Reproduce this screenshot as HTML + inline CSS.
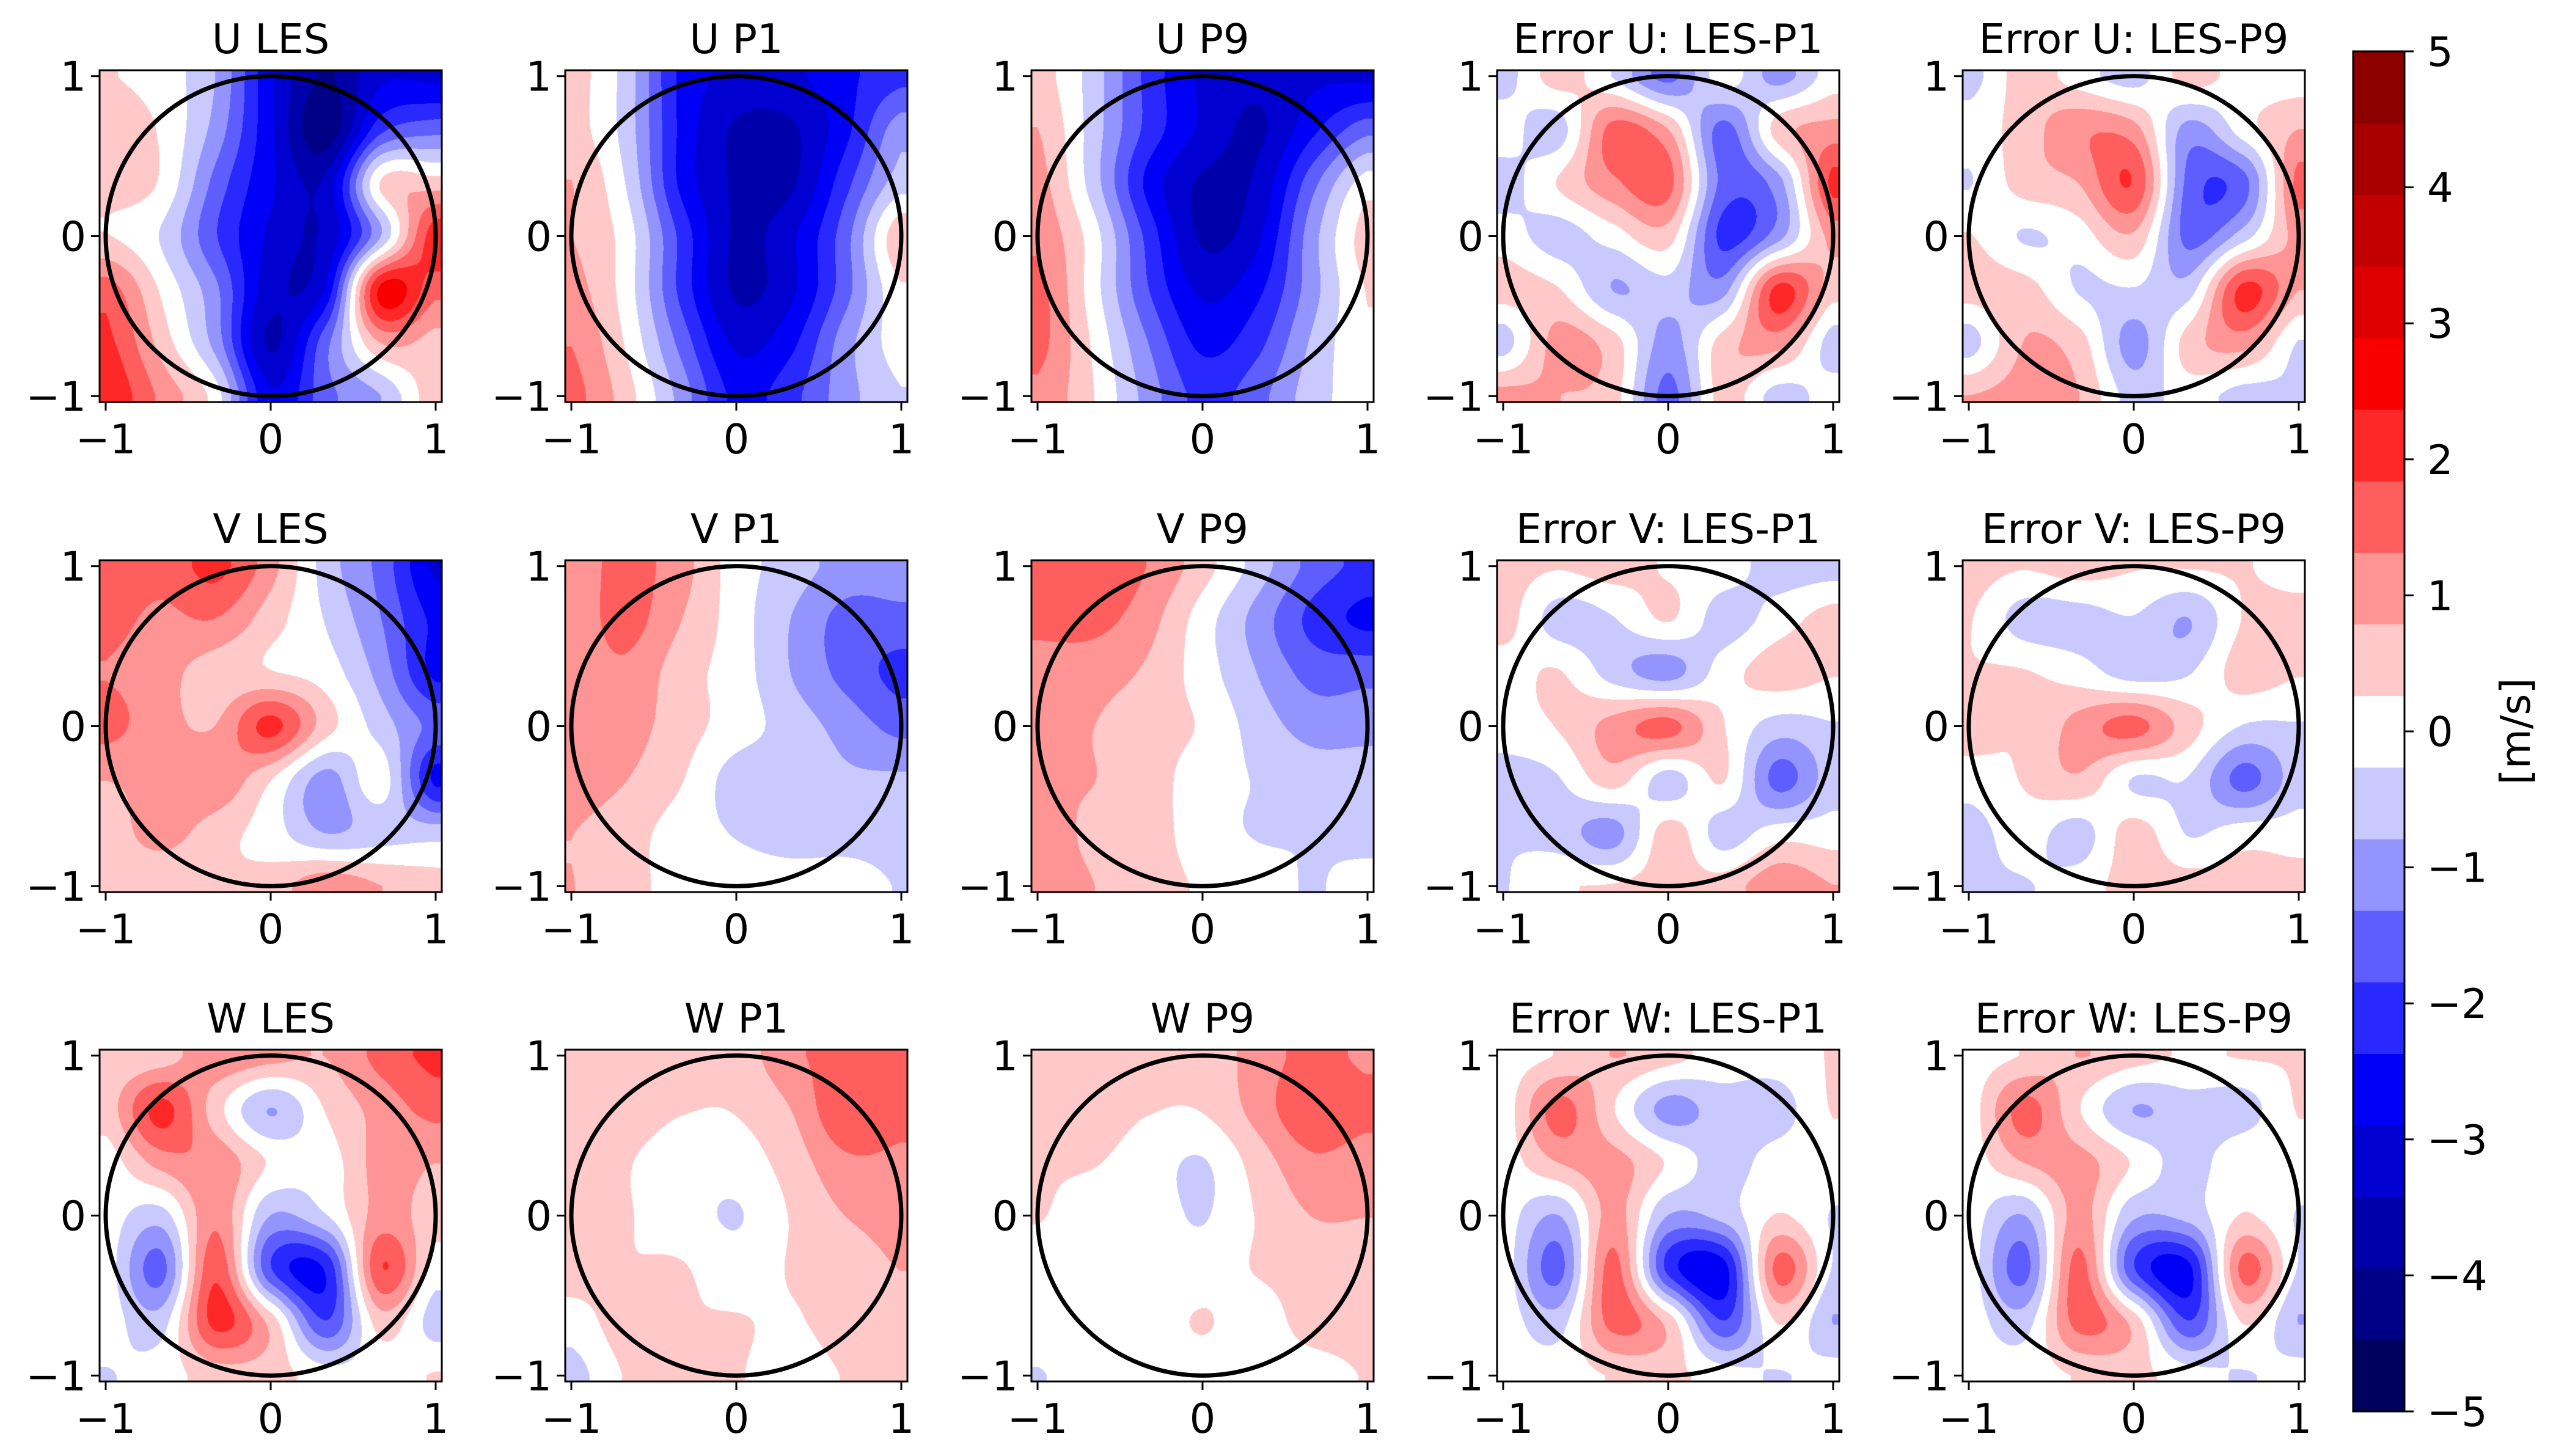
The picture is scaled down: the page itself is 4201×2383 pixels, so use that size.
<!DOCTYPE html>
<html><head><meta charset="utf-8">
<style>
html,body{margin:0;padding:0;background:#fff;}
#wrap{position:relative;width:4201px;height:2383px;overflow:hidden;font-family:"DejaVu Sans","Liberation Sans",sans-serif;}
canvas{position:absolute;}
svg{position:absolute;left:0;top:0;}
</style></head><body>
<div id="wrap">
<svg id="ov" width="4201" height="2383"></svg>
</div>
<script>
const titles = ["U LES","U P1","U P9","Error U: LES-P1","Error U: LES-P9",
"V LES","V P1","V P9","Error V: LES-P1","Error V: LES-P9",
"W LES","W P1","W P9","Error W: LES-P1","Error W: LES-P9"];
const gridXY = [-1,-2/3,-1/3,0,1/3,2/3,1];
const uLES = [[0.3,0,-0.8,-2.8,-4,-3,-3],[0.6,0.2,-1,-2.8,-4.3,-2,-1.5],[0.5,0.2,-1.5,-2.8,-3.3,0.3,0.5],[0.3,-0.3,-1.8,-3,-3.3,-0.8,2.2],[1.6,0.2,-1.2,-3.2,-2.8,2.5,1.5],[2,0.6,-1,-3.5,-1.5,0.8,0.6],[2.3,1.2,0,-2.8,-1.5,-0.8,0.6]];
const uP1 = [[0.5,-0.5,-2.5,-3,-3,-2.5,-2],[0.5,-0.5,-2.5,-3.5,-3.5,-2.5,-1],[0.8,-0.3,-2.5,-3.5,-3.5,-2,-0.5],[0.8,0,-2,-3.5,-3,-1.5,0.7],[1,0,-2,-3.5,-3,-1.5,0.2],[1.3,0.2,-1.5,-3,-2.5,-1,0],[1.5,0.5,-1,-2.5,-2,-1,-0.3]];
const uP9 = [[0.5,-0.5,-2,-3,-3.3,-3,-3],[0.8,-0.5,-2,-3,-3.5,-2.5,-1.5],[1,-0.5,-2.5,-3.5,-3.3,-1.5,0],[1.2,0,-2,-3.5,-3,-1,0.5],[1.5,0,-1.8,-3,-2.5,-1,0.3],[1.5,0.2,-1.3,-2.5,-2,-0.7,0.2],[1.2,0.3,-1,-2,-1.5,-0.5,0]];
const eU1 = [[-0.5,0.5,-0.3,-1.5,0,-1,0],[0,-0.5,1.5,0.8,-1.5,0.5,1],[-0.5,0.3,1.2,1.5,-1.5,-1,2],[0,-0.5,0,0.5,-2,-1,1],[0.5,0.3,-0.8,-0.5,-1,2,0.5],[-0.5,1,0.5,-1,0.5,1,-0.5],[1,0.8,0.5,-1.5,0.5,-0.5,0]];
const eU9 = [[-0.5,0.5,0,-0.5,0.5,0,0],[0,0.5,1.2,1,-1,0,0.8],[-0.3,0.5,0.8,1.8,-1.5,-1.5,1.5],[0.3,-0.3,0,0.7,-1.5,-0.5,1],[0.5,0.5,-0.3,-0.3,-0.5,2,0.8],[-0.5,0.8,0.5,-1,0.5,1,-0.3],[0.8,1,0.8,-0.5,0,-0.5,-0.3]];
const vLES = [[1.8,1.5,2,1,-0.5,-1.5,-3],[1.5,1.2,1.3,0.5,-0.3,-1.3,-2.5],[1.3,1,0.5,0.3,0,-1,-2.5],[1.5,1,0.8,2,0.5,-0.5,-1.5],[0.8,1,1.2,0.3,-1,0,-2.5],[0.5,1,0.5,0,-0.8,-0.5,-0.5],[0.5,0.3,0.3,0.5,1.2,0.8,0.5]];
const vP1 = [[1,1.5,1,0,-0.5,-1,-1],[1,1.5,0.8,0,-0.8,-1.5,-1.5],[1,1.2,0.5,0,-0.8,-1.5,-2],[1,1,0.5,0,-0.5,-1,-1.5],[1,0.8,0.3,-0.5,-0.5,-0.7,-0.7],[0.8,0.5,0,-0.3,-0.5,-0.5,-0.5],[0.8,0.5,0,0,0,0,-0.3]];
const vP9 = [[1.5,1.8,1.3,0.5,-0.5,-1.5,-2],[1.5,1.5,1,0,-1,-2,-2.5],[1,1,0.7,0,-0.8,-1.5,-1.5],[1,0.8,0.5,0.2,-0.5,-1,-1],[0.8,0.8,0.5,0,-0.3,-0.5,-0.5],[1,0.7,0.5,0,-0.3,-0.3,-0.5],[1,0.8,0.5,0.2,0,-0.3,0]];
const eV1 = [[0.5,0.3,0.5,0.2,0,-0.5,-0.5],[0.5,-0.5,-0.3,0.3,-0.5,0,0.5],[0,0.3,-0.5,-1,0,0.5,0.3],[0,0.3,1,1.5,0.3,-0.5,-0.3],[-0.5,-0.3,0.5,-0.5,0.3,-1.5,-0.5],[-0.3,-0.5,-1,0.5,-0.5,0,0],[-0.3,0.2,0.3,0.5,0.5,1.2,0.8]];
const eV9 = [[0.5,0.3,0.5,0.3,0.3,0.3,0],[0.3,-0.5,-0.5,-0.3,-0.8,0.3,0.5],[0.3,0.3,0,-0.5,-0.3,0.5,0.3],[0.5,0.3,1,1.5,0.5,-0.3,-0.3],[0,0.3,0.7,-0.3,-0.3,-1.5,-0.5],[-0.5,0,-0.5,0.5,-0.3,0,0],[-0.3,-0.3,0,0.5,0.5,0.5,0.5]];
const wLES = [[0.3,0.5,1.2,1,0.8,1.5,2],[0.5,2,0.5,-0.8,0.3,1,1.5],[0,1,1.2,0.2,0,1,0.8],[0,-0.5,1.2,-0.8,-0.3,1,0.5],[0,-1.5,1.7,-1.8,-2.3,1.8,0],[0,-0.5,2,0.6,-1.8,0.5,-0.5],[-0.3,0,0.5,0.5,0,0,0.3]];
const wP1 = [[0.5,0.5,0.5,0.5,1.2,1.5,1.5],[0.5,0.5,0.3,0.3,0.8,1.8,1.5],[0.5,0.3,0,0,0.5,1.2,1.2],[0.5,0.3,0,-0.3,0.3,0.8,1],[0.5,0.3,0.3,0,0.3,0.5,0.8],[0,0.5,0.3,0.3,0.2,0.5,0.5],[-0.5,0.3,0.3,0.3,0,0.3,0.5]];
const wP9 = [[0.5,0.5,0.5,0.5,1,1.5,1.2],[0.3,0.5,0.3,0.3,1,1.8,1.5],[0.3,0.3,0,-0.3,0.5,1.2,1],[0.3,0,0,-0.3,0.3,0.8,0.8],[0,0,0,0,0.3,0.5,0.5],[0,0,0,0.3,0,0.5,0.5],[-0.3,0,0,0,0,0,0.3]];
const eW1 = [[0,0.3,0.8,0.5,0,0,0.3],[0,1.5,0.3,-1,-0.5,-0.5,0.3],[0,0.8,1,0.2,-0.5,0,0],[0,-0.8,1,-0.8,-0.6,0.3,-0.3],[0,-1.5,1.5,-2,-2.6,1.5,-0.3],[0,-0.5,1.5,0.6,-1.8,0.3,-0.8],[0,0,0.3,0.4,0,-0.3,0]];
const eW9 = [[0,0.3,0.8,0.5,0.2,0.3,0.3],[0,1.5,0.3,-0.8,-0.5,-0.5,0.3],[0,0.8,1,0.2,-0.5,0.2,0],[0,-0.8,1,-0.7,-0.6,0.3,-0.3],[0,-1.5,1.5,-1.8,-2.5,1.5,-0.3],[0,-0.5,1.5,0.6,-1.8,0.3,-0.8],[0,0,0.3,0.4,0,-0.3,0]];
const fields = [uLES,uP1,uP9,eU1,eU9,vLES,vP1,vP9,eV1,eV9,wLES,wP1,wP9,eW1,eW9];
const cbTicks = [5,4,3,2,1,0,-1,-2,-3,-4,-5];
const vmin=-5, vmax=5, nLev=19;

const colLeft=[163,925,1688,2450,3212], rowTop=[115,917,1718];
const PW=560, PH=543, LIM=1.037;
const NS="http://www.w3.org/2000/svg";
const ov=document.getElementById('ov'), wrap=document.getElementById('wrap');

function seismic(t){
  const st=[[0,0,0,0.3],[0.25,0,0,1],[0.5,1,1,1],[0.75,1,0,0],[1,0.5,0,0]];
  for(let i=0;i<4;i++){const a=st[i],b=st[i+1];if(t<=b[0]){const f=(t-a[0])/(b[0]-a[0]);return [0,1,2].map(k=>Math.round(255*(a[k+1]+f*(b[k+1]-a[k+1]))));}}
  return [128,0,0];
}
const levColors=[];for(let i=0;i<nLev;i++)levColors.push(seismic((i+0.5)/nLev));
function levelIdx(v){let i=Math.floor((v-vmin)/((vmax-vmin)/nLev));return Math.max(0,Math.min(nLev-1,i));}
function cr(p0,p1,p2,p3,t){return 0.5*(2*p1+(-p0+p2)*t+(2*p0-5*p1+4*p2-p3)*t*t+(-p0+3*p1-3*p2+p3)*t*t*t);}
function sample(G,x,y){
  const n=gridXY.length-1;
  let gx=(x+1)/2*n, gy=(1-y)/2*n;
  gx=Math.max(0,Math.min(n,gx)); gy=Math.max(0,Math.min(n,gy));
  let ix=Math.min(n-1,Math.floor(gx)), iy=Math.min(n-1,Math.floor(gy));
  const tx=gx-ix, ty=gy-iy;
  const g=(r,c)=>G[Math.max(0,Math.min(n,r))][Math.max(0,Math.min(n,c))];
  const rows=[];
  for(let r=-1;r<=2;r++)rows.push(cr(g(iy+r,ix-1),g(iy+r,ix),g(iy+r,ix+1),g(iy+r,ix+2),tx));
  return cr(rows[0],rows[1],rows[2],rows[3],ty);
}
function el(tag,attrs,parent){const e=document.createElementNS(NS,tag);for(const k in attrs)e.setAttribute(k,attrs[k]);(parent||ov).appendChild(e);return e;}

fields.forEach((G,p)=>{
  const r=Math.floor(p/5), c=p%5, L=colLeft[c], T=rowTop[r];
  const xs=v=>L+(v+LIM)/(2*LIM)*PW, ys=v=>T+(LIM-v)/(2*LIM)*PH;
  const cv=document.createElement('canvas');cv.width=PW;cv.height=PH;
  cv.style.left=L+'px';cv.style.top=T+'px';
  
  
  wrap.insertBefore(cv,ov);
  const ctx=cv.getContext('2d'), img=ctx.createImageData(PW,PH);
  for(let j=0;j<PH;j++){const y=LIM-(j+0.5)/PH*2*LIM;for(let i=0;i<PW;i++){const x=-LIM+(i+0.5)/PW*2*LIM;
    const col=levColors[levelIdx(sample(G,x,y))];const o=(j*PW+i)*4;img.data[o]=col[0];img.data[o+1]=col[1];img.data[o+2]=col[2];img.data[o+3]=255;}}
  ctx.putImageData(img,0,0);
  const g=el('g',{});
  
  
  const circ=el('ellipse',{cx:xs(0),cy:ys(0),rx:xs(1)-xs(0),ry:ys(0)-ys(1),fill:'none',stroke:'#000','stroke-width':7},g);
  
  
  const fr=el('rect',{x:L,y:T,width:PW,height:PH,fill:'none',stroke:'#000','stroke-width':3},g);
  
  
  const t=el('text',{x:L+PW/2,y:T-28,'font-size':67,'text-anchor':'middle',fill:'#000'},g);t.textContent=titles[p];
  
  
  [-1,0,1].forEach(v=>{
    const lab=v<0?'\u2212'+Math.abs(v):String(v);
    el('line',{x1:xs(v),x2:xs(v),y1:T+PH,y2:T+PH+14,stroke:'#000','stroke-width':3},g);
    const tx=el('text',{x:xs(v),y:T+PH+84,'font-size':67,'text-anchor':'middle'},g);tx.textContent=lab;
    
    
    el('line',{x1:L,x2:L-14,y1:ys(v),y2:ys(v),stroke:'#000','stroke-width':3},g);
    const ty=el('text',{x:L-22,y:ys(v)+24,'font-size':67,'text-anchor':'end'},g);ty.textContent=lab;
    
    
  });
});
const CBX=3851,CBW=84,CBT=84,CBB=2310;
const cbs=v=>CBB-(v-vmin)/(vmax-vmin)*(CBB-CBT);
const cb=el('g',{});


levColors.forEach((c,i)=>{
  const v0=vmin+i*(vmax-vmin)/nLev, v1=v0+(vmax-vmin)/nLev;
  const r=el('rect',{x:CBX,y:cbs(v1),width:CBW,height:cbs(v0)-cbs(v1)+0.8,fill:`rgb(${c[0]},${c[1]},${c[2]})`},cb);
  
  
});
el('rect',{x:CBX,y:CBT,width:CBW,height:CBB-CBT,fill:'none',stroke:'#000','stroke-width':3},cb);
cbTicks.forEach(v=>{
  el('line',{x1:CBX+CBW,x2:CBX+CBW+15,y1:cbs(v),y2:cbs(v),stroke:'#000','stroke-width':3},cb);
  const t=el('text',{x:CBX+CBW+37,y:cbs(v)+24,'font-size':67},cb);t.textContent=v<0?'\u2212'+Math.abs(v):String(v);
  
  
});
const cl=el('text',{x:0,y:0,'font-size':67,'text-anchor':'middle',transform:'translate(4140,1197) rotate(-90)'},cb);
cl.textContent='[m/s]';


</script>
</body></html>
